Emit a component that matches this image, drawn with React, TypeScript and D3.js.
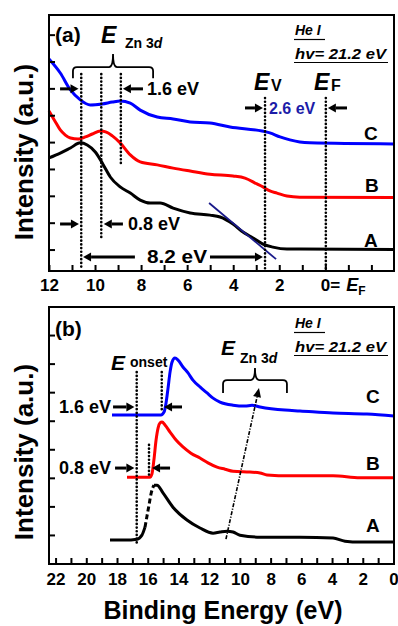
import React from 'react';
import * as d3 from 'd3';

const W = 398, H = 626;
const FONT = "'Liberation Sans', Arial, sans-serif";

// ---------- Panel (a) data: [binding energy eV, intensity a.u.] ----------
const aBlue: [number, number][] = [
  [12.02, 7.11], [11.53, 6.59], [11.09, 5.96], [10.66, 5.59], [10.23, 5.40], [9.71, 5.44],
  [9.27, 5.51], [8.93, 5.55], [8.49, 5.47], [8.06, 5.21], [7.32, 4.95], [6.63, 4.88],
  [5.89, 4.77], [5.03, 4.73], [4.16, 4.58], [2.77, 4.43], [2.43, 4.36], [1.99, 4.21],
  [1.56, 4.10], [1.13, 4.02], [0.69, 3.99], [-2.95, 3.95],
];
const aRed: [number, number][] = [
  [12.02, 5.18], [11.74, 4.77], [11.53, 4.47], [11.31, 4.28], [11.09, 4.17], [10.75, 4.13],
  [10.44, 4.21], [10.14, 4.32], [9.79, 4.43], [9.53, 4.39], [9.27, 4.25], [8.93, 3.99],
  [8.49, 3.54], [8.06, 3.28], [7.32, 3.17], [6.63, 3.05], [5.89, 2.94], [5.03, 2.82],
  [4.03, 2.76], [3.51, 2.68], [2.99, 2.46], [2.73, 2.35], [2.43, 2.20], [2.12, 2.12],
  [1.69, 2.01], [1.13, 1.97], [-2.95, 1.96],
];
const aBlack: [number, number][] = [
  [12.02, 3.43], [11.53, 3.61], [11.09, 3.80], [10.66, 3.99], [10.36, 3.91], [10.01, 3.65],
  [9.66, 3.17], [9.36, 2.72], [8.93, 2.35], [8.49, 2.12], [8.06, 1.86], [7.63, 1.75],
  [7.19, 1.75], [6.63, 1.56], [5.89, 1.38], [5.03, 1.30], [4.59, 1.23], [4.03, 0.97],
  [3.60, 0.67], [3.16, 0.45], [2.73, 0.22], [2.30, 0.11], [1.69, 0.04], [1.13, 0.04],
  [-2.95, 0.02],
];
const aTangent: [number, number][] = [[5.07, 1.75], [2.16, -0.34]];

// ---------- Panel (b) data ----------
const bBlue: [number, number][] = [
  [18.36, 4.22], [15.89, 4.22], [15.17, 4.22], [14.97, 4.32], [14.84, 4.64], [14.71, 5.16],
  [14.58, 5.72], [14.45, 6.07], [14.26, 6.21], [14.06, 6.14], [13.74, 5.90], [13.41, 5.69],
  [13.09, 5.44], [12.63, 5.20], [12.17, 4.99], [11.78, 4.81], [11.33, 4.67], [10.48, 4.56],
  [9.70, 4.53], [9.24, 4.56], [8.72, 4.50], [7.10, 4.39], [6.12, 4.36], [3.97, 4.29],
  [1.76, 4.25], [0.0, 4.18],
];
const bRed: [number, number][] = [
  [17.38, 2.04], [15.89, 2.04], [15.76, 2.15], [15.63, 2.64], [15.49, 3.34], [15.36, 3.76],
  [15.23, 3.94], [15.10, 3.97], [14.91, 3.87], [14.58, 3.62], [14.19, 3.34], [13.74, 3.10],
  [13.22, 2.88], [12.63, 2.71], [12.11, 2.54], [11.52, 2.39], [11.00, 2.32], [10.48, 2.25],
  [9.38, 2.22], [8.72, 2.19], [8.27, 2.12], [6.77, 2.09], [3.97, 2.09], [2.21, 2.02],
  [0.0, 2.02],
];
const bBlack: [number, number][] = [
  [18.49, -0.16], [17.51, -0.16], [16.73, -0.13], [16.41, 0.01], [16.21, 0.29],
  [16.08, 0.68], [15.95, 1.06], [15.82, 1.45], [15.63, 1.76],
  [15.43, 1.76], [15.04, 1.49], [14.39, 0.99], [13.48, 0.54], [12.63, 0.26], [11.78, 0.08],
  [11.33, 0.12], [10.87, 0.15], [10.48, 0.12], [10.03, 0.01], [8.72, -0.06], [6.12, -0.06],
  [3.97, -0.09], [3.19, -0.20], [2.21, -0.23], [0.0, -0.23],
];
const bBlackRiseStart = 16.21;
const bBlackRiseEnd = 15.63;
const bTrend: [number, number][] = [[10.94, -0.13], [8.79, 5.16]];

// ---------- ticks ----------
const aXTicks = d3.range(-2, 13, 1);
const aXLabels = [12, 10, 8, 6, 4, 2];
const aYTicks = d3.range(0, 9, 1);
const bXTicks = d3.range(0, 23, 1);
const bXLabels = [22, 20, 18, 16, 14, 12, 10, 8, 6, 4, 2, 0];
const bYTicks = d3.range(0, 8, 1);

// ---------- annotation positions (data units) ----------
const aDotted = [
  { e: 10.62, v1: 6.55, v2: -0.67 },
  { e: 9.75, v1: 6.55, v2: 0.48 },
  { e: 8.9, v1: 6.55, v2: 3.17 },
  { e: 2.64, v1: 5.66, v2: -0.78 },
  { e: 0, v1: 5.66, v2: -0.78 },
];
const aArrows = [
  { from: 11.54, to: 10.74, v: 6.0 },
  { from: 7.94, to: 8.81, v: 6.0 },
  { from: 11.54, to: 10.72, v: 0.97 },
  { from: 8.81, to: 9.64, v: 0.97 },
  { from: 8.29, to: 10.54, v: -0.26 },
  { from: 5.03, to: 2.73, v: -0.26 },
  { from: 3.51, to: 2.73, v: 5.29 },
  { from: -0.92, to: -0.09, v: 5.29 },
];
const bDotted = [
  { e: 16.75, v1: 5.72, v2: -0.27 },
  { e: 15.12, v1: 5.72, v2: 4.32 },
  { e: 15.95, v1: 3.17, v2: 2.12 },
];
const bArrows = [
  { from: 18.29, to: 16.9, v: 4.5 },
  { from: 13.8, to: 14.97, v: 4.5 },
  { from: 18.16, to: 16.9, v: 2.36 },
  { from: 14.58, to: 15.75, v: 2.36 },
];

const xa = d3.scaleLinear().domain([12.02, -2.96]).range([49, 394]);
const ya = d3.scaleLinear().domain([-0.78, 8.75]).range([271, 15]);
const xb = d3.scaleLinear().domain([22.46, 0]).range([49, 394]);
const yb = d3.scaleLinear().domain([-1, 8]).range([564, 307]);

function Arrow({ x1, x2, y, color = '#000' }: { x1: number; x2: number; y: number; color?: string }) {
  const dir = x2 > x1 ? 1 : -1;
  const hl = 8, hw = 4.5;
  const xb2 = x2 - dir * hl;
  return (
    <g>
      <line x1={x1} y1={y} x2={xb2} y2={y} stroke={color} strokeWidth={3} />
      <polygon points={`${x2},${y} ${xb2},${y - hw} ${xb2},${y + hw}`} fill={color} />
    </g>
  );
}

function bracePath(x1: number, x2: number, y: number, yEnd: number, yTip: number) {
  const xm = (x1 + x2) / 2;
  const r = 4;
  return `M${x1},${yEnd} L${x1},${y + r} Q${x1},${y} ${x1 + r},${y} L${xm - r},${y} Q${xm},${y} ${xm},${yTip}` +
    ` Q${xm},${y} ${xm + r},${y} L${x2 - r},${y} Q${x2},${y} ${x2},${y + r} L${x2},${yEnd}`;
}

function Panel({ x, y, series, xTicks, yTicks, tickLabels, labelY, zeroSpecial }: any) {
  const [x0, x1] = x.range();
  const [y0, y1] = y.range();
  return (
    <g>
      {series.map((s: any, i: number) => {
        const line = d3.line<[number, number]>().x(d => x(d[0])).y(d => y(d[1])).curve(d3.curveMonotoneX);
        const pts = [...s.data].sort((a, b) => x(a[0]) - x(b[0]));
        return <path key={i} d={line(pts) || ''} fill="none" stroke={s.color} strokeWidth={s.width ?? 3}
          strokeDasharray={s.dash} strokeLinejoin="round" />;
      })}
      <rect x={x0} y={y1} width={x1 - x0} height={y0 - y1} fill="none" stroke="#000" strokeWidth={2} />
      {xTicks.map((t: number) => (
        <line key={'xt' + t} x1={x(t)} x2={x(t)} y1={y0} y2={y0 - 6} stroke="#000" strokeWidth={2} />
      ))}
      {yTicks.map((t: number) => (
        <line key={'yt' + t} x1={x0} x2={x0 + 6} y1={y(t)} y2={y(t)} stroke="#000" strokeWidth={2} />
      ))}
      {tickLabels.map((t: number) => (
        <text key={'tl' + t} x={x(t)} y={labelY} textAnchor="middle" fontSize={17} fontWeight="bold"
          fontFamily={FONT}>{t}</text>
      ))}
      {zeroSpecial && (
        <text x={x(0) - 5} y={labelY} fontSize={17} fontWeight="bold" fontFamily={FONT}>
          0=<tspan dx={6} fontStyle="italic" fontSize={18}>E</tspan>
          <tspan fontSize={12} dy={4}>F</tspan>
        </text>
      )}
    </g>
  );
}

function HeLabel({ yTop }: { yTop: number }) {
  return (
    <g fontFamily={FONT} fontWeight="bold" fontStyle="italic">
      <text x={295} y={yTop + 10} fontSize={14}>He I</text>
      <line x1={294} x2={325} y1={yTop + 14.5} y2={yTop + 14.5} stroke="#000" strokeWidth={1.2} />
      <text x={295} y={yTop + 34} fontSize={15} textLength={91} lengthAdjust="spacingAndGlyphs">hv= 21.2 eV</text>
      <line x1={294} x2={388} y1={yTop + 37.5} y2={yTop + 37.5} stroke="#000" strokeWidth={1.2} />
    </g>
  );
}

export default function App() {
  const dots = { stroke: '#000', strokeWidth: 2.6, strokeDasharray: '0.1,3.6', strokeLinecap: 'round' as const };
  const riseB = bBlack.filter(d => d[0] <= bBlackRiseStart && d[0] >= bBlackRiseEnd);
  const lowB = bBlack.filter(d => d[0] >= bBlackRiseStart);
  const highB = bBlack.filter(d => d[0] <= bBlackRiseEnd);
  const txt = { fontFamily: FONT, fontWeight: 'bold' as const };
  return (
    <svg width={W} height={H} style={{ position: 'absolute', left: 0, top: 0, background: '#fff' }}>
      {/* Panel (a) */}
      <Panel x={xa} y={ya} xTicks={aXTicks} yTicks={aYTicks} tickLabels={aXLabels} labelY={291} zeroSpecial
        series={[
          { data: aBlack, color: '#000' },
          { data: aRed, color: '#ff0000' },
          { data: aBlue, color: '#0000ff' },
          { data: aTangent, color: '#1a1a8a', width: 1.8 },
        ]} />
      {aDotted.map((d, i) => (
        <line key={'ad' + i} x1={xa(d.e)} x2={xa(d.e)} y1={ya(d.v1)} y2={ya(d.v2)} {...dots} />
      ))}
      {aArrows.map((a, i) => (
        <Arrow key={'aa' + i} x1={xa(a.from)} x2={xa(a.to)} y={ya(a.v)} />
      ))}
      <path d={bracePath(xa(10.98), xa(7.5), ya(6.81), ya(6.4), ya(7.3))} fill="none" stroke="#000" strokeWidth={1.8} />
      <text x={55} y={42} fontSize={21} {...txt}>(a)</text>
      <text x={101} y={43} fontSize={23} fontStyle="italic" {...txt}>E</text>
      <text x={125} y={48} fontSize={14} {...txt}>Zn 3<tspan fontStyle="italic">d</tspan></text>
      <text x={147} y={95} fontSize={18} {...txt}>1.6 eV</text>
      <text x={128} y={230} fontSize={18} {...txt}>0.8 eV</text>
      <text x={147} y={263} fontSize={18} {...txt} textLength={60} lengthAdjust="spacingAndGlyphs">8.2 eV</text>
      <text x={269} y={114} fontSize={16} {...txt} fill="#1c1ca8">2.6 eV</text>
      <text x={254} y={90} fontSize={23} fontStyle="italic" {...txt}>E</text>
      <text x={271} y={91} fontSize={16} {...txt}>V</text>
      <text x={314} y={90} fontSize={23} fontStyle="italic" {...txt}>E</text>
      <text x={331} y={91} fontSize={16} {...txt}>F</text>
      <HeLabel yTop={25} />
      <text x={364} y={140} fontSize={19} {...txt}>C</text>
      <text x={365} y={192} fontSize={19} {...txt}>B</text>
      <text x={364} y={247} fontSize={19} {...txt}>A</text>

      {/* Panel (b) */}
      <Panel x={xb} y={yb} xTicks={bXTicks} yTicks={bYTicks} tickLabels={bXLabels} labelY={585}
        series={[
          { data: lowB, color: '#000' },
          { data: highB, color: '#000' },
          { data: riseB, color: '#000', dash: '5,3' },
          { data: bRed, color: '#ff0000' },
          { data: bBlue, color: '#0000ff' },
        ]} />
      {bDotted.map((d, i) => (
        <line key={'bd' + i} x1={xb(d.e)} x2={xb(d.e)} y1={yb(d.v1)} y2={yb(d.v2)} {...dots} />
      ))}
      {bArrows.map((a, i) => (
        <Arrow key={'ba' + i} x1={xb(a.from)} x2={xb(a.to)} y={yb(a.v)} />
      ))}
      <path d={bracePath(xb(11.13), xb(6.97), yb(5.44), yb(4.99), yb(5.86))} fill="none" stroke="#000" strokeWidth={1.8} />
      {(() => {
        const x1 = xb(bTrend[0][0]), y1 = yb(bTrend[0][1]), x2 = xb(bTrend[1][0]), y2 = yb(bTrend[1][1]);
        const ang = Math.atan2(y2 - y1, x2 - x1);
        const hl = 9, hw = 4;
        const bx = x2 - hl * Math.cos(ang), by = y2 - hl * Math.sin(ang);
        const px = -Math.sin(ang) * hw, py = Math.cos(ang) * hw;
        return (
          <g>
            <line x1={x1} y1={y1} x2={bx} y2={by} stroke="#000" strokeWidth={1.6} strokeDasharray="4,1.5,1.2,1.5" />
            <polygon points={`${x2},${y2} ${bx + px},${by + py} ${bx - px},${by - py}`} fill="#000" />
          </g>
        );
      })()}
      <text x={55} y={336} fontSize={21} {...txt}>(b)</text>
      <text x={111} y={370} fontSize={21} fontStyle="italic" {...txt}>E</text>
      <text x={130} y={367} fontSize={14} {...txt}>onset</text>
      <text x={221} y={355} fontSize={21} fontStyle="italic" {...txt}>E</text>
      <text x={240} y={363} fontSize={14} {...txt}>Zn 3<tspan fontStyle="italic">d</tspan></text>
      <text x={59} y={413} fontSize={18} {...txt}>1.6 eV</text>
      <text x={59} y={474} fontSize={18} {...txt}>0.8 eV</text>
      <HeLabel yTop={318} />
      <text x={366} y={403} fontSize={19} {...txt}>C</text>
      <text x={366} y={470} fontSize={19} {...txt}>B</text>
      <text x={366} y={532} fontSize={19} {...txt}>A</text>

      {/* axis titles */}
      <text transform="translate(33,152) rotate(-90)" textAnchor="middle" fontSize={26} {...txt}>Intensity (a.u.)</text>
      <text transform="translate(33,452) rotate(-90)" textAnchor="middle" fontSize={26} {...txt}>Intensity (a.u.)</text>
      <text x={223} y={619} textAnchor="middle" fontSize={25} {...txt}>Binding Energy (eV)</text>
    </svg>
  );
}
